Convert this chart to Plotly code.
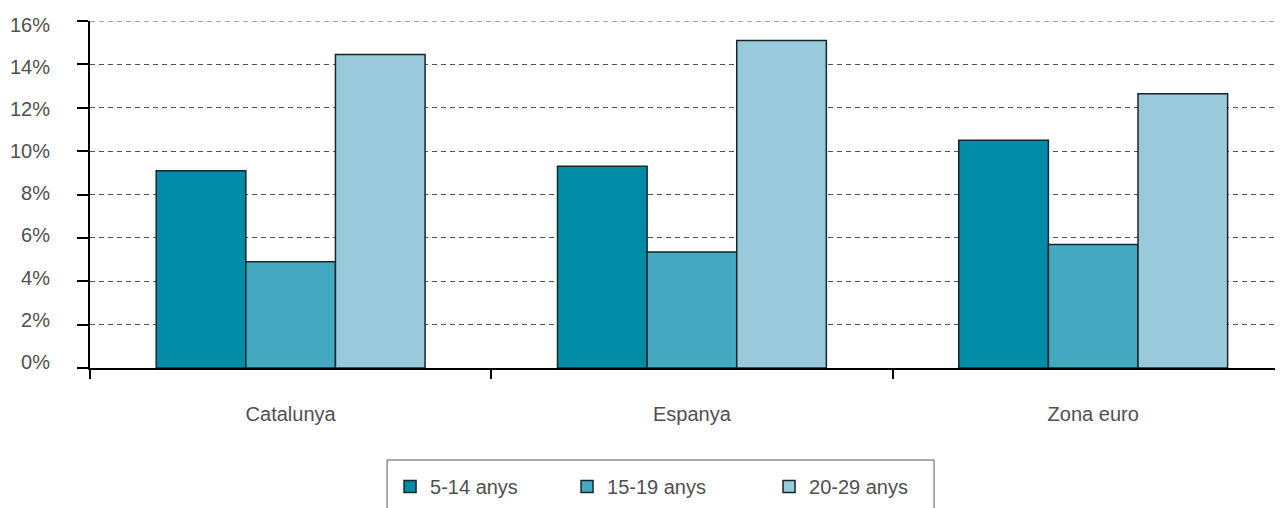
import plotly.graph_objects as go

categories = ["Catalunya", "Espanya", "Zona euro"]
series_names = ["5-14 anys", "15-19 anys", "20-29 anys"]
v_5_14 = [9.1, 9.3, 10.5]
v_15_19 = [4.9, 5.35, 5.7]
v_20_29 = [14.45, 15.1, 12.65]
colors = ["#008BA7", "#45AAC1", "#99CADB"]
legend_widths = [132, 157, 110]
y_ticks = [0, 2, 4, 6, 8, 10, 12, 14, 16]
y_tick_labels = [f"{t}%" for t in y_ticks]
y_max = y_ticks[-1]

font = dict(family="Liberation Sans, Arial, sans-serif", size=20, color="#505050")

fig = go.Figure()
for name, vals, col, lw in zip(series_names, [v_5_14, v_15_19, v_20_29], colors, legend_widths):
    fig.add_trace(go.Bar(
        x=categories, y=vals, name=name, legendwidth=lw,
        marker=dict(color=col, line=dict(color="#16262a", width=1.5)),
    ))
# empty helper trace so the label-only axis is drawn
fig.add_trace(go.Scatter(x=[], y=[], yaxis="y2", showlegend=False, hoverinfo="skip"))

fig.update_layout(
    width=1275, height=500,
    margin=dict(l=82, r=0, t=13, b=140),
    paper_bgcolor="white", plot_bgcolor="white",
    barmode="group", bargap=0.33, bargroupgap=0,
    font=font,
    showlegend=True,
    legend=dict(
        orientation="h", x=0.2515, xanchor="left", y=-0.285, yanchor="top",
        borderwidth=0, bgcolor="rgba(0,0,0,0)", font=font,
    ),
    shapes=[
        dict(type="rect", xref="paper", yref="paper",
             x0=0.2490, x1=0.7075, y0=-0.2651, y1=-0.45,
             line=dict(color="#5a5a5a", width=1), fillcolor="rgba(0,0,0,0)"),
        # top gridline (plotly omits the one at the range edge)
        dict(type="line", xref="paper", yref="y", x0=0, x1=1, y0=y_max, y1=y_max,
             line=dict(color="#555555", width=1, dash="5px,4px"), layer="below"),
    ],
    yaxis2=dict(overlaying="y", side="left", range=[-0.299, 16.19],
                tickvals=y_ticks, ticktext=y_tick_labels, showgrid=False,
                showline=False, zeroline=False, ticks="", ticklabelstandoff=39,
                tickfont=font, fixedrange=True),
)
fig.update_xaxes(
    range=[-0.5, 2.473], showline=True, linecolor="black", linewidth=2,
    ticks="outside", tickson="boundaries", ticklen=9, tickwidth=2, tickcolor="black",
    showgrid=False, ticklabelstandoff=27,
)
fig.update_yaxes(
    selector=dict(overlaying=None),
    range=[0, y_max], tickvals=y_ticks, showticklabels=False,
    showline=True, linecolor="black", linewidth=2,
    ticks="outside", ticklen=11, tickwidth=2, tickcolor="black",
    showgrid=True, gridcolor="#555555", gridwidth=1, griddash="5px,4px",
    zeroline=False,
)
fig.write_html("out.html")
